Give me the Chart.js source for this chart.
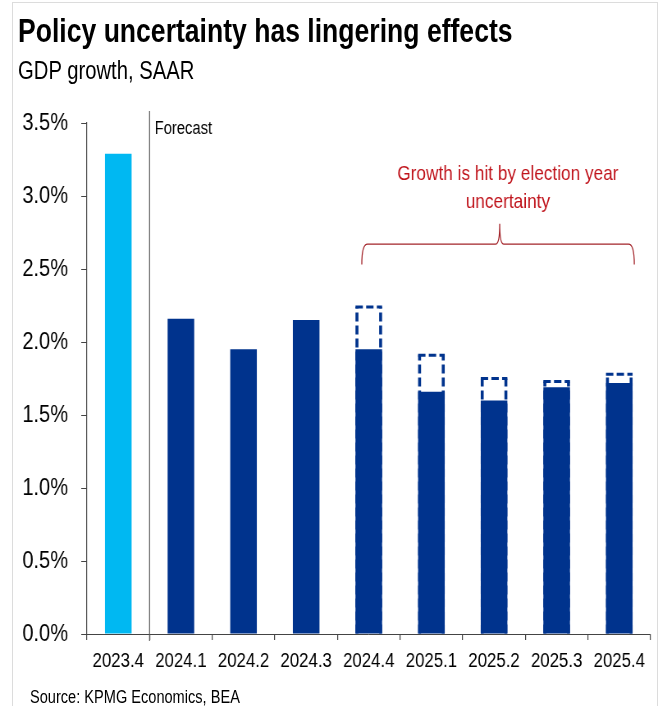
<!DOCTYPE html>
<html>
<head>
<meta charset="utf-8">
<script src="https://cdn.jsdelivr.net/npm/chart.js@4.4.1/dist/chart.umd.min.js"></script>
<style>
  html, body { margin: 0; padding: 0; background: #fff; }
  body { width: 667px; height: 706px; overflow: hidden; position: relative;
         font-family: 'Liberation Sans', Arial, sans-serif; }
  #frame { position: absolute; left: 12px; top: 2px; width: 644px; height: 720px; border: 1px solid #dcdcdc; }
  .narrow { position: absolute; white-space: nowrap; color: #000; transform-origin: 0 0; transform: scaleX(0.81); }
  #title { left: 18px; top: 12px; font-size: 33px; font-weight: bold; transform: scaleX(0.805); }
  #subtitle { left: 18px; top: 56px; font-size: 25px; }
  #source { left: 30px; top: 687px; font-size: 18px; }
  #wrap { position: absolute; left: 0; top: 0; width: 667px; height: 706px; }
  #chartjs_bar { width: 667px; height: 706px; }
</style>
</head>
<body>
<div id="frame"></div>
<div id="wrap"><canvas id="chartjs_bar" width="813" height="706" style="width:667px;height:706px"></canvas></div>
<div id="title" class="narrow">Policy uncertainty has lingering effects</div>
<div id="subtitle" class="narrow">GDP growth, SAAR</div>
<div id="source" class="narrow">Source: KPMG Economics, BEA</div>
<script>
'use strict';

// quarters
var categories = ['2023.4', '2024.1', '2024.2', '2024.3', '2024.4', '2025.1', '2025.2', '2025.3', '2025.4'];
// GDP growth, SAAR (%), actual + forecast
var gdpGrowth = [3.29, 2.16, 1.95, 2.15, 1.95, 1.66, 1.60, 1.69, 1.72];
// forecast without the election year uncertainty (dashed outline)
var noUncertainty = [null, null, null, null, 2.25, 1.92, 1.76, 1.74, 1.79];
var yTicks = [0, 0.5, 1, 1.5, 2, 2.5, 3, 3.5];
var noteLines = ['Growth is hit by election year', 'uncertainty'];

// canvas is drawn wide and squeezed by css, gives the narrow type look
var SX = 813 / 667;
var FONT = "'Liberation Sans', Arial, sans-serif";
var darkBlue = '#00338d';
var lightBlue = '#00b8f2';
var noteRed = '#c0141c';

var barColors = gdpGrowth.map(function (v, i) { return i === 0 ? lightBlue : darkBlue; });

// dashed outline bars, forecast divider and brace annotation
var extras = {
    id: 'extras',
    beforeDatasetsDraw: function (chart) {
        var ctx = chart.ctx;
        var meta = chart.getDatasetMeta(1);
        ctx.save();
        ctx.strokeStyle = darkBlue;
        ctx.setLineDash([9, 4]);
        meta.data.forEach(function (bar, i) {
            if (noUncertainty[i] === null) return;
            var p = bar.getProps(['x', 'y', 'base', 'width'], true);
            var l = p.x - p.width / 2 + 1.8, r = p.x + p.width / 2 - 1.8;
            var t = p.y + 1.5;
            ctx.lineWidth = 3.6;
            ctx.beginPath();
            ctx.moveTo(l, p.base);
            ctx.lineTo(l, t);
            ctx.moveTo(r, p.base);
            ctx.lineTo(r, t);
            ctx.stroke();
            ctx.lineWidth = 3;
            ctx.beginPath();
            ctx.moveTo(l - 1.8, t);
            ctx.lineTo(r + 1.8, t);
            ctx.stroke();
        });
        ctx.restore();
    },
    afterDraw: function (chart) {
        var ctx = chart.ctx, x = chart.scales.x, y = chart.scales.y;
        ctx.save();
        // forecast divider
        var fx = (x.getPixelForValue(0) + x.getPixelForValue(1)) / 2;
        ctx.strokeStyle = '#555';
        ctx.lineWidth = 1.2;
        ctx.beginPath();
        ctx.moveTo(fx, chart.chartArea.top - 12);
        ctx.lineTo(fx, chart.chartArea.bottom + 7);
        ctx.stroke();
        ctx.fillStyle = '#000';
        ctx.font = '18px ' + FONT;
        ctx.textBaseline = 'middle';
        ctx.fillText('Forecast', fx + 5 * SX, chart.chartArea.top + 6);

        // brace over the election year quarters
        var bl = x.getPixelForValue(4) - 7 * SX, br = x.getPixelForValue(8) + 15 * SX;
        var bm = (bl + br) / 2 + 2;
        var by = y.getPixelForValue(2.67), bb = y.getPixelForValue(2.53), bt = y.getPixelForValue(2.81);
        ctx.strokeStyle = '#a3242a';
        ctx.lineWidth = 1.3;
        ctx.beginPath();
        ctx.moveTo(bl, bb);
        ctx.quadraticCurveTo(bl, by, bl + 7, by);
        ctx.lineTo(bm - 5, by);
        ctx.quadraticCurveTo(bm, by, bm, bt);
        ctx.quadraticCurveTo(bm, by, bm + 5, by);
        ctx.lineTo(br - 7, by);
        ctx.quadraticCurveTo(br, by, br, bb);
        ctx.stroke();

        ctx.fillStyle = noteRed;
        ctx.font = '21px ' + FONT;
        ctx.textAlign = 'center';
        ctx.fillText(noteLines[0], bm + 10, y.getPixelForValue(3.15));
        ctx.fillText(noteLines[1], bm + 10, y.getPixelForValue(2.96));
        ctx.restore();
    }
};

var canvas = document.getElementById('chartjs_bar');
var myBar = new Chart(canvas.getContext('2d'), {
    type: 'bar',
    data: {
        labels: categories,
        datasets: [{
            label: 'GDP growth',
            data: gdpGrowth,
            backgroundColor: barColors,
            borderWidth: 0,
            grouped: false,
            order: 0
        }, {
            label: 'Without uncertainty',
            data: noUncertainty,
            backgroundColor: 'rgba(0,0,0,0)',
            borderWidth: 0,
            grouped: false,
            order: 1
        }]
    },
    options: {
        responsive: false,
        animation: false,
        devicePixelRatio: 1,
        layout: { padding: { top: 123, right: Math.round(16 * SX), bottom: 20, left: 0 } },
        datasets: { bar: { categoryPercentage: 1, barPercentage: 0.425 } },
        plugins: {
            legend: { display: false },
            title: { display: false },
            tooltip: { enabled: false }
        },
        scales: {
            x: {
                grid: { display: true, drawOnChartArea: false, offset: true, tickLength: 6, color: '#444', lineWidth: 1.2 },
                border: { display: true, color: '#444', width: 1 },
                ticks: { color: '#000', font: { family: FONT, size: 20.5 }, padding: 9, maxRotation: 0 },
                afterFit: function (s) { s.height = 52; }
            },
            y: {
                min: 0,
                max: 3.5,
                afterBuildTicks: function (s) { s.ticks = yTicks.map(function (v) { return { value: v }; }); },
                grid: { display: true, drawOnChartArea: false, tickLength: Math.round(6 * SX), color: '#444' },
                border: { display: true, color: '#444', width: 1.2 },
                ticks: {
                    color: '#000',
                    font: { family: FONT, size: 24.5 },
                    padding: Math.round(13 * SX),
                    callback: function (v) { return v.toFixed(1) + '%'; }
                },
                afterFit: function (s) { s.width = Math.round(87 * SX); }
            }
        }
    },
    plugins: [extras]
});
</script>
</body>
</html>
